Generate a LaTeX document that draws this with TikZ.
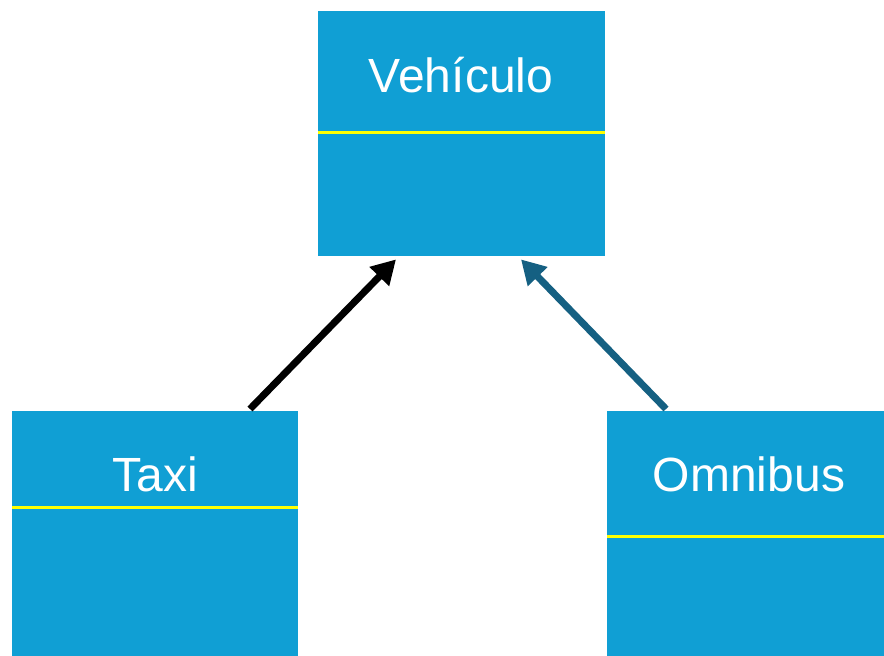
\documentclass[tikz,border=0pt]{standalone}
\usepackage{fontspec}
\setmainfont{Liberation Sans}
\usetikzlibrary{arrows.meta,calc}
\definecolor{boxblue}{HTML}{109FD4}
\definecolor{arrteal}{HTML}{156082}
\definecolor{sep}{HTML}{FFFF00}
\tikzset{
  classbox/.style={fill=boxblue, draw=none, rectangle, inner sep=0pt, anchor=north west},
  title/.style={text=white, font=\fontsize{48}{52}\selectfont, inner sep=0pt},
  sepline/.style={draw=sep, line width=3pt},
  inherit/.style={line width=7pt, -{Triangle[length=24pt,width=26pt]}}
}
\begin{document}
\begin{tikzpicture}[x=1pt,y=-1pt]
\useasboundingbox (0,0) rectangle (884,656);
\clip (0,0) rectangle (884,656);
% boxes
\node[classbox, minimum width=287pt, minimum height=245pt] (veh) at (318,11) {};
\node[classbox, minimum width=286pt, minimum height=260pt] (taxi) at (12,411) {};
\node[classbox, minimum width=290pt, minimum height=260pt] (omni) at (607,411) {};
% titles
\node[title] (vehT) at (461,75) {Vehículo};
\node[title] (taxiT) at (155,474) {Taxi};
\node[title] (omniT) at (749,474) {Omnibus};
% separators
\draw[sepline] ($(veh.north west)+(0,121)$) -- ($(veh.north east)+(0,121)$);
\draw[sepline] ($(taxi.north west)+(0,96)$) -- ($(taxi.north east)+(0,96)$);
\draw[sepline] ($(omni.north west)+(0,125)$) -- ($(omni.north east)+(0,125)$);
% arrows
\coordinate (a1s) at ($(taxi.north west)+(238,-2)$);
\coordinate (a1e) at ($(veh.south west)+(78,3)$);
\coordinate (a2s) at ($(omni.north west)+(59,-2)$);
\coordinate (a2e) at ($(veh.south west)+(203,3)$);
\draw[inherit, draw=black, fill=black] (a1s) -- (a1e);
\draw[inherit, draw=arrteal, fill=arrteal] (a2s) -- (a2e);
\end{tikzpicture}
\end{document}
